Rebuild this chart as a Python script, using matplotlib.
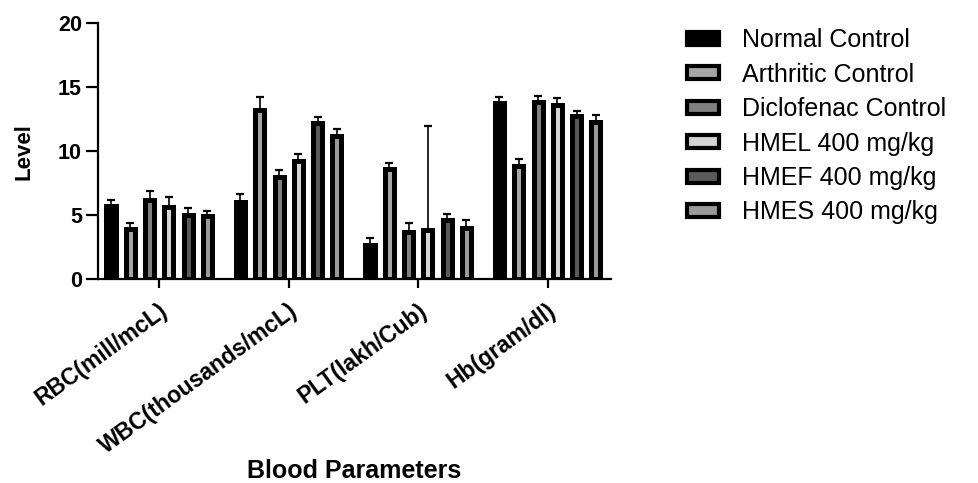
import matplotlib
matplotlib.use("Agg")
import matplotlib.pyplot as plt
import matplotlib.transforms as mtransforms
from matplotlib.patches import Patch
import numpy as np

plt.rcParams['font.family'] = ['Liberation Sans', 'DejaVu Sans']

categories = ["RBC(mill/mcL)", "WBC(thousands/mcL)", "PLT(lakh/Cub)", "Hb(gram/dl)"]
groups = ["Normal Control", "Arthritic Control", "Diclofenac Control",
          "HMEL 400 mg/kg", "HMEF 400 mg/kg", "HMES 400 mg/kg"]

normal_control = [5.7, 6.05, 2.65, 13.8]
arthritic_control = [3.9, 13.25, 8.6, 8.8]
diclofenac_control = [6.2, 7.95, 3.65, 13.85]
hmel_400 = [5.6, 9.2, 3.8, 13.6]
hmef_400 = [5.0, 12.2, 4.6, 12.75]
hmes_400 = [4.9, 11.2, 4.0, 12.25]

normal_err = [0.5, 0.6, 0.55, 0.45]
arthritic_err = [0.5, 0.95, 0.5, 0.6]
diclofenac_err = [0.65, 0.6, 0.7, 0.45]
hmel_err = [0.8, 0.6, 8.2, 0.55]
hmef_err = [0.55, 0.5, 0.5, 0.4]
hmes_err = [0.45, 0.55, 0.65, 0.6]

values = [normal_control, arthritic_control, diclofenac_control, hmel_400, hmef_400, hmes_400]
errors = [normal_err, arthritic_err, diclofenac_err, hmel_err, hmef_err, hmes_err]
face_colors = ["#000000", "#a6a6a6", "#808080", "#d4d4d4", "#5a5a5a", "#9a9a9a"]

fig = plt.figure(figsize=(9.79, 4.83), dpi=100)
ax = fig.add_axes([98/979, 1-279/483, (611-98)/979, (279-23.3)/483])

x = np.arange(len(categories))
step = 0.149
width = 0.07
for i, (vals, errs, fc) in enumerate(zip(values, errors, face_colors)):
    pos = x + (i - 2.5) * step
    ax.errorbar(pos, vals, yerr=[np.zeros(len(errs)), errs], fmt='none',
                ecolor='black', elinewidth=1.2, capsize=3.2, capthick=1.6, zorder=2)
    ax.bar(pos, vals, width=width, color=fc, edgecolor='black', linewidth=3.6,
           joinstyle='miter', zorder=3)

ax.set_xlim(-0.473, 3.489)
ax.set_ylim(0, 20)
ax.set_yticks([0, 5, 10, 15, 20])
ax.set_xticks(x)
ax.set_xticklabels(categories, rotation=36, ha='right', va='top',
                   rotation_mode='anchor', fontsize=16.5, fontweight='bold')
for lab in ax.get_yticklabels():
    lab.set_fontsize(15.5)
    lab.set_fontweight('bold')

for s in ['top', 'right']:
    ax.spines[s].set_visible(False)
for s in ['left', 'bottom']:
    ax.spines[s].set_linewidth(1.6)
ax.tick_params(axis='y', length=8.5, width=1.6, pad=3)
ax.tick_params(axis='x', length=6.5, width=1.6, pad=8)

offset = mtransforms.ScaledTranslation(-0.5/72, 0, fig.dpi_scale_trans)
for lab in ax.get_xticklabels():
    lab.set_transform(lab.get_transform() + offset)

ax.set_ylabel("Level", fontsize=16, fontweight='bold')
ax.yaxis.set_label_coords(-0.123, 0.5)
ax.set_xlabel("Blood Parameters", fontsize=18, fontweight='bold')
ax.xaxis.set_label_coords(0.5, -0.705)

handles = [Patch(facecolor=fc, edgecolor='black', linewidth=3.0) for fc in face_colors]
fig.legend(handles, groups, loc='upper left', bbox_to_anchor=(687/979, 1-28/483),
           frameon=False, fontsize=18, handlelength=1.3, handleheight=0.42,
           handletextpad=0.9, labelspacing=0.42, borderpad=0, borderaxespad=0)

fig.savefig("out.png", dpi=100)
